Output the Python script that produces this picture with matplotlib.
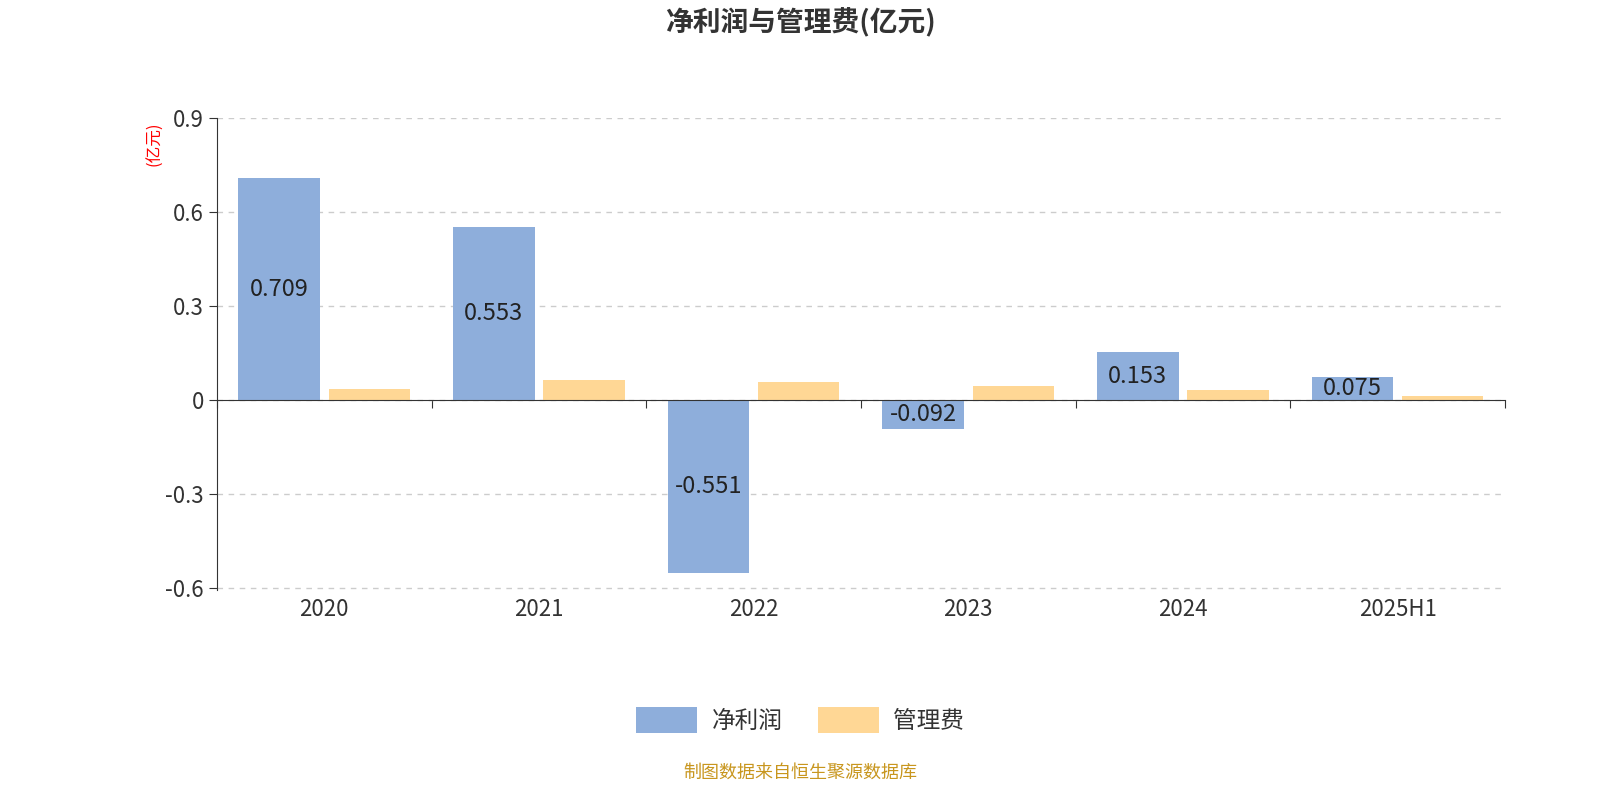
import matplotlib
matplotlib.use("Agg")
import matplotlib.pyplot as plt
import numpy as np

plt.rcParams['font.family'] = ['Noto Sans CJK SC', 'DejaVu Sans']

categories = ["2020", "2021", "2022", "2023", "2024", "2025H1"]
net_profit = [0.709, 0.553, -0.551, -0.092, 0.153, 0.075]
mgmt_fee = [0.035, 0.065, 0.058, 0.045, 0.032, 0.012]
yticks = [-0.6, -0.3, 0, 0.3, 0.6, 0.9]
ytick_labels = ["-0.6", "-0.3", "0", "0.3", "0.6", "0.9"]

blue = "#8eaedb"
orange = "#ffd795"

fig = plt.figure(figsize=(16, 8), dpi=100)
ax = fig.add_axes([0.1356, 0.2625, 0.805, 0.59])
x = np.arange(len(categories))
w = 0.38
b1 = ax.bar(x - 0.21, net_profit, w, color=blue, label="净利润")
b2 = ax.bar(x + 0.21, mgmt_fee, w, color=orange, label="管理费")
for xi, v in zip(x, net_profit):
    ax.text(xi - 0.21, v / 2, f"{v:.3f}", ha="center", va="center", fontsize=17, color="#222222")

ax.set_xlim(-0.5, len(categories) - 0.5)
ax.set_ylim(-0.605, 0.9)
ax.set_yticks(yticks)
ax.set_yticklabels(ytick_labels, fontsize=16, color="#333333")
ax.yaxis.grid(True, linestyle=(0, (4, 4)), color="#cccccc", linewidth=1)
ax.set_axisbelow(True)
for s in ["top", "right"]:
    ax.spines[s].set_visible(False)
ax.spines["left"].set_color("#333333")
ax.spines["bottom"].set_position(("data", 0))
ax.spines["bottom"].set_color("#333333")
ax.set_xticks(np.arange(-0.5, len(categories), 1.0))
ax.set_xticklabels([])
ax.tick_params(axis="x", length=6, color="#333333")
ax.tick_params(axis="y", length=6, color="#333333")
for xi, c in zip(x, categories):
    ax.text(xi, -0.63, c, ha="center", va="top", fontsize=16, color="#333333",
            transform=ax.transData)

fig.text(0.5, 0.972, "净利润与管理费(亿元)", ha="center", va="center", fontsize=20,
         fontweight="bold", color="#333333")
fig.text(0.097, 0.82, "(亿元)", rotation=90, ha="center", va="center", fontsize=12, color="red")
fig.text(0.5, 0.034, "制图数据来自恒生聚源数据库", ha="center", va="center", fontsize=13, color="#c8961e")

leg = fig.legend(handles=[b1, b2], loc="center", bbox_to_anchor=(0.5, 0.1),
                 ncol=2, frameon=False, fontsize=17, handlelength=2.6, handleheight=1.3,
                 columnspacing=1.5, handletextpad=0.6)
for t in leg.get_texts():
    t.set_color("#333333")

fig.savefig("out.png", dpi=100)
